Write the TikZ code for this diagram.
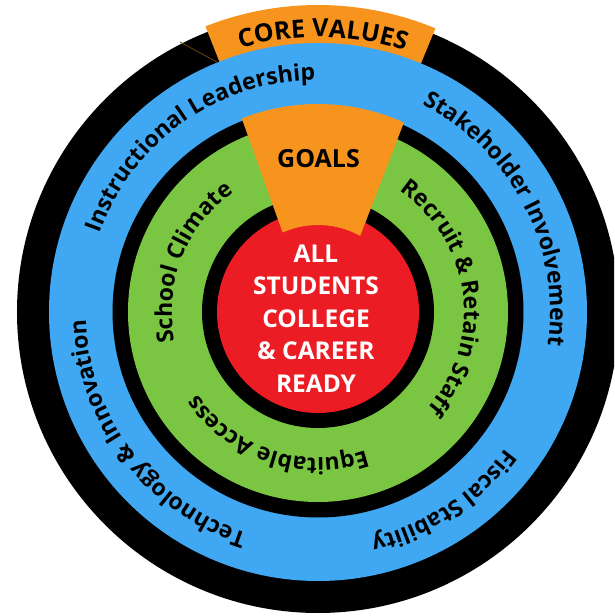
\documentclass[tikz,border=0pt]{standalone}
\usepackage{fontspec}
\setmainfont{Open Sans}
\usetikzlibrary{decorations.text}

\definecolor{ringblue}{RGB}{64,168,242}
\definecolor{ringgreen}{RGB}{122,198,66}
\definecolor{corered}{RGB}{236,28,36}
\definecolor{valorange}{RGB}{247,148,30}

\newcommand\ringfont{\fontsize{23}{23}\selectfont\bfseries}
\newcommand\bigfont{\fontsize{25}{25}\selectfont\bfseries}

\begin{document}
\begin{tikzpicture}[x=1pt,y=1pt,
  arclabel/.style={decorate, decoration={text along path, text align=center, text={#1}}},
  headlabel/.style={font=\bigfont, text=black, inner sep=0pt},
]
\useasboundingbox (-318,-304) rectangle (296,312);
\clip (-318,-304) rectangle (296,312);

% outer black ring
\fill[black] (0,0) circle[radius=301];
% core values tab
\fill[valorange] (111.5:265) arc[start angle=111.5, end angle=67.5, radius=265]
  -- (67.5:307) arc[start angle=67.5, end angle=111.5, radius=307] -- cycle;
\draw[valorange!45!black, line width=0.8] (-138,270) -- (-101,250);

% blue ring
\fill[ringblue] (0,0) circle[radius=269];
\fill[black] (0,0) circle[radius=205.5];
% green ring
\fill[ringgreen] (0,0) circle[radius=190];
\fill[black] (0,0) circle[radius=116];
% red core
\fill[corered] (0,0) circle[radius=101];
% goals tab
\fill[valorange] (111.5:208) arc[start angle=111.5, end angle=65.6, radius=208]
  -- (61:87) arc[start angle=61, end angle=114, radius=87] -- cycle;

% curved labels
\path[arclabel={|\bigfont|CORE VALUES}] (134:275) arc[start angle=134, end angle=44, radius=275];
\path[arclabel={|\ringfont|Instructional Leadership}] (170.5:232) arc[start angle=170.5, end angle=80.5, radius=232];
\path[arclabel={|\ringfont|Stakeholder Involvement}] (72.5:232) arc[start angle=72.5, end angle=-17.5, radius=232];
\path[arclabel={|\ringfont|Fiscal Stability}] (-11.5:232) arc[start angle=-11.5, end angle=-101.5, radius=232];
\path[arclabel={|\ringfont|Technology {\&} Innovation}] (262:232) arc[start angle=262, end angle=172, radius=232];
\path[arclabel={|\ringfont|School Climate}] (218.5:146) arc[start angle=218.5, end angle=98.5, radius=146];
\path[arclabel={|\ringfont|Recruit {\&} Retain Staff}] (67.5:146) arc[start angle=67.5, end angle=-52.5, radius=146];
\path[arclabel={|\ringfont|Equitable Access}] (-48.3:146) arc[start angle=-48.3, end angle=-168.3, radius=146];

% straight labels
\node[headlabel] (goals) at (0.5,153.5) {GOALS};
\node[align=center, text=white, inner sep=0pt,
      font=\fontsize{24.5}{32.5}\selectfont\bfseries] (mission) at (-2,-6.5)
  {ALL\\STUDENTS\\COLLEGE\\\& CAREER\\READY};
\end{tikzpicture}
\end{document}
